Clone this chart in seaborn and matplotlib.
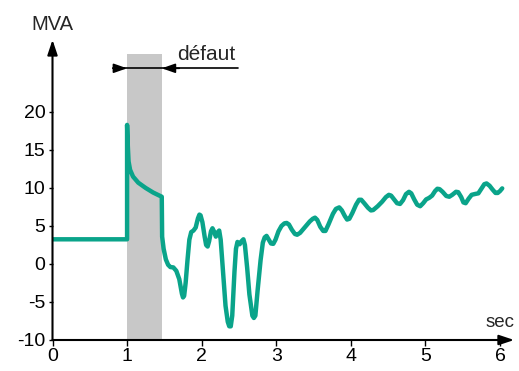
import matplotlib
matplotlib.use("Agg")
import matplotlib.pyplot as plt
import seaborn as sns
import pandas as pd

# Apparent power during and after the fault
time_s = [0.0, 1.0, 1.0, 1.01, 1.02, 1.04, 1.08, 1.15, 1.25, 1.35, 1.465,
          1.47, 1.49, 1.52, 1.55, 1.58, 1.62, 1.66, 1.70, 1.735, 1.75, 1.765,
          1.785, 1.81, 1.835, 1.86, 1.89, 1.92, 1.95, 1.97, 1.985, 2.01, 2.04,
          2.06, 2.08, 2.10, 2.125, 2.145, 2.17, 2.19, 2.21, 2.235, 2.255, 2.29,
          2.32, 2.35, 2.37, 2.39, 2.41, 2.44, 2.46, 2.48, 2.51, 2.535, 2.56,
          2.58, 2.61, 2.64, 2.68, 2.70, 2.72, 2.75, 2.79, 2.82, 2.845, 2.87,
          2.90, 2.93, 2.96, 2.99, 3.03, 3.07, 3.11, 3.14, 3.17, 3.21, 3.25,
          3.28, 3.32, 3.38, 3.45, 3.49, 3.52, 3.55, 3.59, 3.63, 3.66, 3.70,
          3.76, 3.80, 3.845, 3.88, 3.92, 3.95, 3.98, 4.02, 4.07, 4.11, 4.14,
          4.18, 4.23, 4.27, 4.30, 4.36, 4.42, 4.47, 4.51, 4.54, 4.58, 4.62,
          4.66, 4.70, 4.74, 4.78, 4.81, 4.85, 4.89, 4.93, 4.97, 5.01, 5.05,
          5.09, 5.13, 5.16, 5.19, 5.23, 5.28, 5.32, 5.36, 5.41, 5.44, 5.48,
          5.51, 5.54, 5.58, 5.62, 5.66, 5.71, 5.75, 5.79, 5.82, 5.86, 5.90,
          5.94, 5.97, 6.00, 6.03]
power_mva = [3.25, 3.25, 18.3, 15.5, 13.5, 12.4, 11.5, 10.7, 10.0, 9.4, 8.85,
             3.6, 2.0, 0.6, -0.1, -0.4, -0.45, -0.9, -2.0, -3.9, -4.4, -4.2,
             -2.5, 0.5, 3.2, 4.2, 4.4, 4.8, 6.0, 6.5, 6.4, 5.5, 3.6,
             2.5, 2.3, 3.0, 4.3, 4.7, 4.2, 3.6, 4.1, 4.4, 3.2, -1.5,
             -5.5, -7.6, -8.2, -8.2, -6.8, -1.0, 2.0, 2.9, 2.6, 3.0, 3.25,
             2.5, -0.5, -4.0, -6.8, -7.1, -6.8, -3.5, 0.5, 2.8, 3.5, 3.7,
             3.2, 2.7, 2.65, 3.2, 4.3, 5.0, 5.35, 5.4, 5.2, 4.5, 3.95,
             3.85, 4.1, 4.8, 5.6, 5.95, 6.1, 5.8, 4.9, 4.35, 4.35, 5.2,
             6.6, 7.25, 7.45, 7.05, 6.3, 5.85, 5.95, 6.7, 7.8, 8.45, 8.45,
             8.0, 7.4, 7.05, 7.1, 7.6, 8.2, 8.8, 9.1, 9.0, 8.5, 8.0,
             7.9, 8.4, 9.2, 9.5, 9.3, 8.5, 7.8, 7.6, 8.0, 8.5, 8.7,
             9.0, 9.6, 9.9, 9.85, 9.5, 8.95, 8.85, 9.1, 9.5, 9.45, 8.8,
             8.1, 8.0, 8.6, 9.1, 9.2, 9.3, 9.9, 10.5, 10.6, 10.3, 9.8,
             9.35, 9.35, 9.6, 9.95]

x_ticks = [0, 1, 2, 3, 4, 5, 6]
y_ticks = [-10, -5, 0, 5, 10, 15, 20]

fault_start, fault_end = 1.0, 1.465

sns.set_style("white")
plt.rcParams["font.family"] = ["Liberation Sans", "DejaVu Sans"]

fig = plt.figure(figsize=(5.19, 3.71), dpi=100)
ax = fig.add_axes([52.5 / 519, 31 / 371, 462.4 / 519, 304 / 371])

# fault window
ax.axvspan(fault_start, fault_end, ymin=0, ymax=(27.6 + 10) / 40,
           color="#c8c8c8", lw=0, zorder=0)

df = pd.DataFrame({"t": time_s, "p": power_mva})
sns.lineplot(data=df, x="t", y="p", sort=False, estimator=None, ax=ax,
             color="#0aa48a", lw=3.2, zorder=3)
ax.lines[-1].set_solid_joinstyle("round")
ax.lines[-1].set_solid_capstyle("round")

ax.set_xlim(0, 6.2)
ax.set_ylim(-10, 30)
for s in ax.spines.values():
    s.set_visible(False)

ax.set_xticks(x_ticks)
ax.set_yticks(y_ticks)
ax.set_xticklabels([str(v) for v in x_ticks])
ax.set_yticklabels([str(v) for v in y_ticks])
ax.tick_params(axis="x", direction="out", length=4, width=1, pad=2,
               labelsize=14, colors="black", bottom=True)
ax.tick_params(axis="y", direction="out", length=3, width=1, pad=2,
               labelsize=14, colors="black", left=True)
ax.set_xlabel("")
ax.set_ylabel("")

# axes drawn as arrows
arrow_kw = dict(arrowstyle="-|>,head_length=0.9,head_width=0.3",
                color="black", lw=1.5, shrinkA=0, shrinkB=0)
ax.annotate("", xy=(6.19, -10), xytext=(0, -10), arrowprops=arrow_kw,
            annotation_clip=False)
ax.annotate("", xy=(0, 29.5), xytext=(0, -10), arrowprops=arrow_kw,
            annotation_clip=False)

ax.text(0.0, 30.8, "MVA", ha="center", va="baseline", fontsize=14.5)
ax.text(6.0, -8.25, "sec", ha="center", va="baseline", fontsize=13.5)

# fault duration marker
y_mark = 25.75
ax.plot([0.81, 2.49], [y_mark, y_mark], color="black", lw=1.2, zorder=4)
head_kw = dict(arrowstyle="-|>,head_length=0.8,head_width=0.28",
               color="black", lw=1.2, shrinkA=0, shrinkB=0)
ax.annotate("", xy=(fault_start, y_mark), xytext=(0.81, y_mark),
            arrowprops=head_kw)
ax.annotate("", xy=(fault_end, y_mark), xytext=(1.7, y_mark),
            arrowprops=head_kw)
ax.text(1.67, 26.8, "défaut", ha="left", va="baseline", fontsize=15)

fig.savefig("out.png", dpi=100)
